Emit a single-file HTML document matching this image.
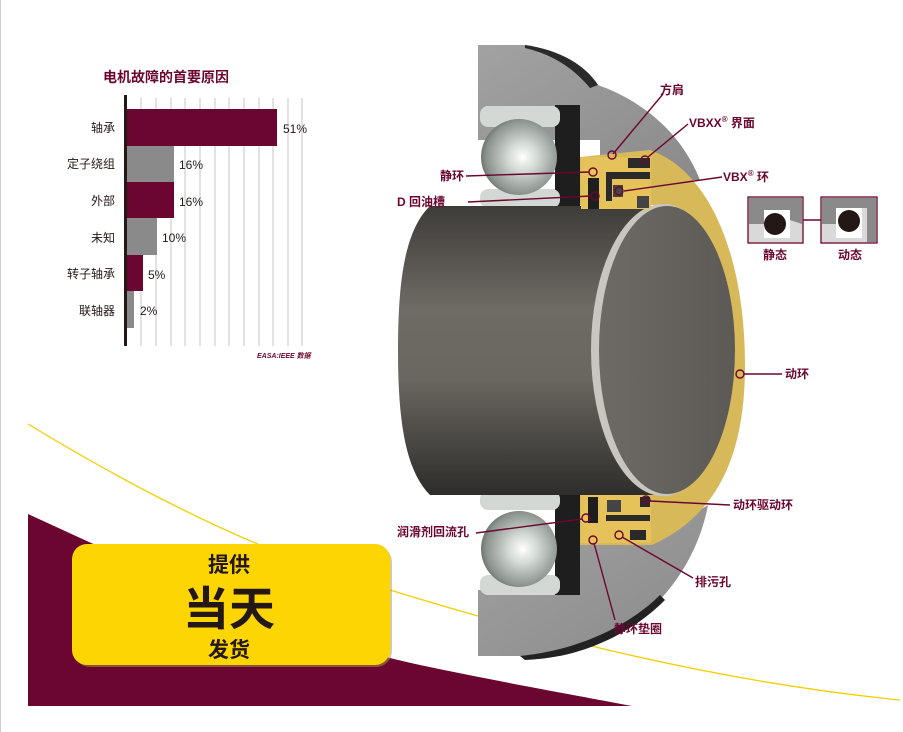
<!DOCTYPE html>
<html><head><meta charset="utf-8"><style>
html,body{margin:0;padding:0;background:#fff}
body{width:903px;height:732px;overflow:hidden;position:relative;font-family:"Liberation Sans","Noto Sans CJK SC",sans-serif}
svg{position:absolute;left:0;top:0}
</style></head><body>
<svg width="903" height="732" viewBox="0 0 903 732" xmlns="http://www.w3.org/2000/svg" font-family="Liberation Sans, Noto Sans CJK SC, sans-serif">
<defs>
<linearGradient id="shaft" x1="0" y1="0" x2="0" y2="1">
<stop offset="0" stop-color="#3e3c39"/><stop offset="0.35" stop-color="#6e6a64"/><stop offset="0.6" stop-color="#6a6660"/><stop offset="1" stop-color="#2e2d2b"/>
</linearGradient>
<linearGradient id="face" x1="0" y1="0" x2="1" y2="0">
<stop offset="0" stop-color="#6d6a66"/><stop offset="1" stop-color="#5d5a56"/>
</linearGradient>
<radialGradient id="ball" cx="0.55" cy="0.5" r="0.6">
<stop offset="0" stop-color="#ffffff"/><stop offset="0.3" stop-color="#d6dcd8"/><stop offset="0.8" stop-color="#8c948f"/><stop offset="1" stop-color="#5a605c"/>
</radialGradient>
<linearGradient id="gray" x1="0" y1="0" x2="1" y2="1">
<stop offset="0" stop-color="#a2a2a2"/><stop offset="1" stop-color="#8a8a8a"/>
</linearGradient>
</defs>
<line x1="0.5" y1="0" x2="0.5" y2="732" stroke="#ccc" stroke-width="1"/>
<path d="M28 514 C 150 570, 300 640, 420 665 C 500 682, 580 696, 632 706 L28 706 Z" fill="#6b0630"/>
<path d="M28 424 C 120 480, 200 520, 260 545 M 390 590 C 520 630, 700 680, 900 700" fill="none" stroke="#f3cf00" stroke-width="1.3"/>
<rect x="74" y="546" width="318" height="121" rx="16" fill="#b09a40" opacity="0.5"/>
<rect x="72" y="544" width="318" height="121" rx="15" fill="#fdd500"/>
<text x="229" y="572" font-size="21" font-weight="bold" text-anchor="middle" fill="#231815">提供</text>
<text x="229" y="625" font-size="46" font-weight="bold" text-anchor="middle" fill="#231815">当天</text>
<text x="229" y="657" font-size="21" font-weight="bold" text-anchor="middle" fill="#231815">发货</text>

<text x="103" y="82" font-size="14" font-weight="bold" fill="#6b0630">电机故障的首要原因</text>
<g stroke="#d2d2d2" stroke-width="1.3">
<line x1="141" y1="98" x2="141" y2="346"/><line x1="156" y1="98" x2="156" y2="346"/><line x1="171" y1="98" x2="171" y2="346"/><line x1="185" y1="98" x2="185" y2="346"/><line x1="200" y1="98" x2="200" y2="346"/><line x1="215" y1="98" x2="215" y2="346"/><line x1="229" y1="98" x2="229" y2="346"/><line x1="244" y1="98" x2="244" y2="346"/><line x1="259" y1="98" x2="259" y2="346"/><line x1="273" y1="98" x2="273" y2="346"/><line x1="288" y1="98" x2="288" y2="346"/><line x1="302" y1="98" x2="302" y2="346"/>
</g>
<rect x="127" y="109" width="150" height="37" fill="#6b0630"/>
<rect x="127" y="146" width="47" height="36" fill="#8a8a8a"/>
<rect x="127" y="182" width="47" height="36" fill="#6b0630"/>
<rect x="127" y="218" width="30" height="37" fill="#8a8a8a"/>
<rect x="127" y="255" width="16" height="36" fill="#6b0630"/>
<rect x="127" y="291" width="7" height="37" fill="#8a8a8a"/>
<rect x="124" y="95" width="3" height="251" fill="#231815"/>
<g font-size="12" fill="#231815" text-anchor="end">
<text x="115" y="132">轴承</text><text x="115" y="168">定子绕组</text><text x="115" y="205">外部</text><text x="115" y="242">未知</text><text x="115" y="278">转子轴承</text><text x="115" y="315">联轴器</text>
</g>
<g font-size="12" fill="#231815">
<text x="283" y="133">51%</text><text x="179" y="169">16%</text><text x="179" y="206">16%</text><text x="162" y="242">10%</text><text x="148" y="279">5%</text><text x="140" y="315">2%</text>
</g>
<text x="257" y="358" font-size="7" font-style="italic" font-weight="bold" fill="#6b0630">EASA:IEEE 数据</text>

<path d="M478 45 L525 45 C560 50, 585 65, 598 85 C 640 100, 680 130, 700 180 L 640 180 L 600 160 L 600 140 L 478 140 Z" fill="url(#gray)"/>
<path d="M525 45 C560 50, 585 65, 598 85 L 590 88 C 575 70, 555 55, 525 48 Z" fill="#2a2a2a"/>
<path d="M478 590 L 572 590 L 572 540 L 650 540 L 708 505 C 695 575, 640 640, 560 656 L 478 656 Z" fill="url(#gray)"/>
<path d="M520 656 C 580 650, 630 625, 660 595 L 665 600 C 630 635, 580 658, 525 660 Z" fill="#222"/>
<rect x="555" y="105" width="25" height="105" fill="#1e1e1e"/>
<rect x="555" y="490" width="25" height="105" fill="#1e1e1e"/>
<rect x="480" y="106" width="80" height="21" rx="8" fill="#d4d8d4"/>
<rect x="480" y="189" width="80" height="19" rx="8" fill="#d4d8d4"/>
<rect x="480" y="491" width="80" height="19" rx="8" fill="#d4d8d4"/>
<rect x="480" y="575" width="80" height="20" rx="8" fill="#d4d8d4"/>
<circle cx="519" cy="157" r="38" fill="url(#ball)"/>
<circle cx="519" cy="549" r="38" fill="url(#ball)"/>
<path d="M650 150 C 712 172, 745 260, 745 365 C 745 455, 718 515, 652 545 L 580 545 L 580 495 L 663 495 L 663 205 L 580 205 L 580 157 Z" fill="#d8b95a"/>
<path d="M430 206 L 663 206 L 663 495 L 430 495 C 405 470, 398 420, 398 350 C 398 280, 405 230, 430 206 Z" fill="url(#shaft)"/>
<ellipse cx="663" cy="350" rx="72" ry="146" fill="#c9c6c0"/>
<ellipse cx="667" cy="350" rx="68" ry="144" fill="url(#face)"/>
<rect x="581" y="157" width="70" height="52" fill="#e6c25a"/>
<rect x="588" y="178" width="11" height="31" fill="#1e1e1e"/>
<rect x="628" y="158" width="22" height="10" fill="#2a2a2a"/>
<rect x="606" y="172" width="44" height="7" fill="#2a2a2a"/>
<rect x="606" y="179" width="6" height="22" fill="#2a2a2a"/>
<rect x="613" y="185" width="10" height="12" fill="#444"/>
<rect x="637" y="196" width="12" height="12" fill="#444"/>
<rect x="581" y="495" width="70" height="48" fill="#e6c25a"/>
<rect x="588" y="497" width="10" height="26" fill="#1e1e1e"/>
<rect x="607" y="500" width="14" height="12" fill="#444"/>
<rect x="640" y="497" width="10" height="10" fill="#2a2a2a"/>
<rect x="606" y="515" width="44" height="6" fill="#2a2a2a"/>
<rect x="630" y="530" width="16" height="10" fill="#2a2a2a"/>

<g stroke="#6b0630" stroke-width="1.4" fill="none">
<line x1="613" y1="154" x2="663" y2="94"/><circle cx="612" cy="155" r="4"/>
<line x1="648" y1="157" x2="688" y2="124"/><circle cx="645" cy="160" r="4"/>
<line x1="624" y1="191" x2="722" y2="177"/><circle cx="619" cy="191" r="4"/>
<line x1="466" y1="176" x2="589" y2="172"/><circle cx="593" cy="172" r="4"/>
<line x1="468" y1="202" x2="591" y2="196"/><circle cx="595" cy="196" r="4"/>
<line x1="744" y1="374" x2="782" y2="374"/><circle cx="740" cy="374" r="4"/>
<line x1="650" y1="501" x2="730" y2="505"/><circle cx="646" cy="500" r="4"/>
<line x1="476" y1="533" x2="582" y2="519"/><circle cx="586" cy="518" r="4"/>
<line x1="622" y1="537" x2="693" y2="578"/><circle cx="619" cy="535" r="4"/>
<line x1="594" y1="543" x2="615" y2="620"/><circle cx="593" cy="540" r="4"/>
</g>
<g font-size="12" font-weight="bold" fill="#6b0630">
<text x="660" y="94">方肩</text>
<text x="689" y="127">VBXX<tspan font-size="8" dy="-5">®</tspan><tspan dy="5"> 界面</tspan></text>
<text x="723" y="181">VBX<tspan font-size="8" dy="-5">®</tspan><tspan dy="5"> 环</tspan></text>
<text x="440" y="180">静环</text>
<text x="397" y="206">D 回油槽</text>
<text x="785" y="378">动环</text>
<text x="733" y="509">动环驱动环</text>
<text x="397" y="536">润滑剂回流孔</text>
<text x="695" y="586">排污孔</text>
<text x="614" y="633">静环垫圈</text>
<text x="763" y="259">静态</text>
<text x="838" y="259">动态</text>
</g>

<line x1="803" y1="220" x2="821" y2="220" stroke="#6b0630" stroke-width="1.5"/>
<rect x="748" y="197" width="55" height="46" fill="#d9d9d9" stroke="#6b0630" stroke-width="1.3"/>
<path d="M749 198 H802 V224 L790 220 V210 H764 V224 H749 Z" fill="#8a8a8a"/>
<rect x="764" y="210" width="26" height="28" fill="#fff"/>
<circle cx="775" cy="224" r="11" fill="#231815"/>
<rect x="821" y="197" width="56" height="46" fill="#d9d9d9" stroke="#6b0630" stroke-width="1.3"/>
<path d="M822 198 H876 V242 H867 V208 H836 V224 H822 Z" fill="#8a8a8a"/>
<rect x="836" y="208" width="26" height="30" fill="#fff"/>
<circle cx="849" cy="221" r="11" fill="#231815"/>
</svg>
</body></html>
